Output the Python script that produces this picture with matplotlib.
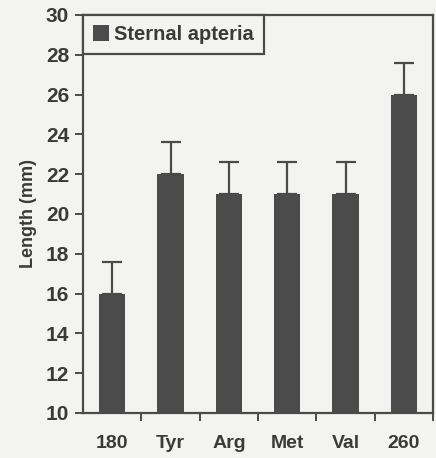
import matplotlib
matplotlib.use('Agg')
import matplotlib.pyplot as plt

# Data
categories = ['180', 'Tyr', 'Arg', 'Met', 'Val', '260']
lengths = [16, 22, 21, 21, 21, 26]
errors = [1.6, 1.6, 1.6, 1.6, 1.6, 1.6]
y_ticks = [10, 12, 14, 16, 18, 20, 22, 24, 26, 28, 30]

plt.rcParams['font.family'] = ['Liberation Sans', 'DejaVu Sans']
plt.rcParams['font.weight'] = 'bold'
plt.rcParams['axes.labelweight'] = 'bold'

bg = '#f3f3f1'
bar_color = '#4b4b4b'
line_color = '#4a4a4a'
text_color = '#3a3a3a'

fig = plt.figure(figsize=(4.36, 4.58), dpi=100, facecolor=bg)
ax = fig.add_axes([83 / 436, 1 - 413 / 458, 350 / 436, 398 / 458])
ax.set_facecolor(bg)

x = list(range(len(categories)))
ax.bar(x, lengths, width=0.45, color=bar_color, label='Sternal apteria', zorder=2)
ax.errorbar(x, lengths, yerr=[[0] * len(errors), errors], fmt='none',
            ecolor=line_color, elinewidth=1.6, capsize=7, capthick=1.6, zorder=3)

ax.set_xlim(-0.5, len(categories) - 0.5)
ax.set_ylim(10, 30)
ax.set_yticks(y_ticks)
ax.set_yticklabels([str(t) for t in y_ticks], fontsize=15, color=text_color)

# category labels centred, ticks at category boundaries
ax.set_xticks(x)
ax.set_xticklabels(categories, fontsize=14, color=text_color)
ax.tick_params(axis='x', which='major', length=0, pad=16)
ax.set_xticks([i + 0.5 for i in x], minor=True)
ax.tick_params(axis='x', which='minor', length=6, width=1.4, color=line_color, direction='out')
ax.tick_params(axis='y', length=6, width=1.4, color=line_color, direction='out', pad=4)

ax.set_ylabel('Length (mm)', fontsize=13, color=text_color, labelpad=6)

for spine in ax.spines.values():
    spine.set_color(line_color)
    spine.set_linewidth(1.6)

leg = ax.legend(loc='upper left', bbox_to_anchor=(0, 1), borderaxespad=0,
                fancybox=False, frameon=True, fontsize=14.5,
                handlelength=0.8, handleheight=0.8, handletextpad=0.25,
                borderpad=0.5)
leg.get_frame().set_edgecolor(line_color)
leg.get_frame().set_linewidth(1.6)
leg.get_frame().set_facecolor(bg)
leg.get_frame().set_alpha(1)
for t in leg.get_texts():
    t.set_color(text_color)

fig.savefig('out.png', dpi=100, facecolor=bg)
